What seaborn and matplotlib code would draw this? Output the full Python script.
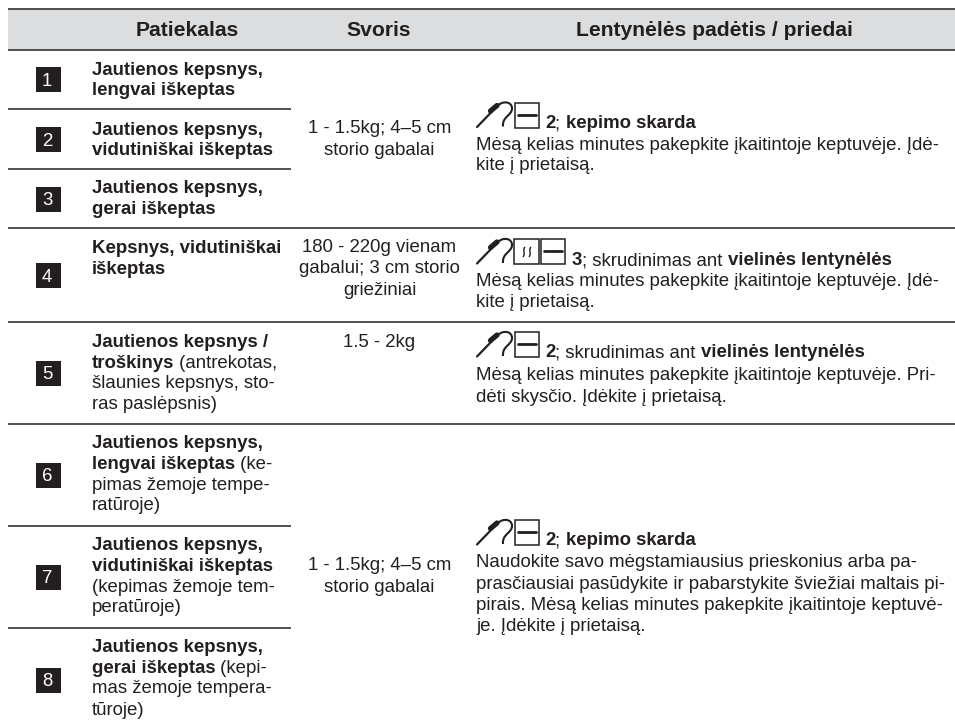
import pandas as pd
import matplotlib
matplotlib.use("Agg")
import matplotlib.pyplot as plt
from matplotlib.patches import Rectangle, PathPatch
from matplotlib.path import Path
import seaborn as sns

# header
headers = ["Patiekalas", "Svoris", "Lentynėlės padėtis / priedai"]
header_x = [187, 379, 714]

# row numbers
row_numbers = ["1", "2", "3", "4", "5", "6", "7", "8"]
badge_y = [79, 139, 198.5, 275, 372.5, 474.5, 576.5, 679.5]

# dish column, (text, bold) runs per line
dish_lines = [
    [("Jautienos kepsnys,", True)],
    [("lengvai iškeptas", True)],
    [("Jautienos kepsnys,", True)],
    [("vidutiniškai iškeptas", True)],
    [("Jautienos kepsnys,", True)],
    [("gerai iškeptas", True)],
    [("Kepsnys, vidutiniškai", True)],
    [("iškeptas", True)],
    [("Jautienos kepsnys /", True)],
    [("troškinys", True), (" (antrekotas,", False)],
    [("šlaunies kepsnys, sto-", False)],
    [("ras paslėpsnis)", False)],
    [("Jautienos kepsnys,", True)],
    [("lengvai iškeptas", True), (" (ke-", False)],
    [("pimas žemoje tempe-", False)],
    [("ratūroje)", False)],
    [("Jautienos kepsnys,", True)],
    [("vidutiniškai iškeptas", True)],
    [("(kepimas žemoje tem-", False)],
    [("peratūroje)", False)],
    [("Jautienos kepsnys,", True)],
    [("gerai iškeptas", True), (" (kepi-", False)],
    [("mas žemoje tempera-", False)],
    [("tūroje)", False)],
]
dish_y = [75, 95, 135, 155, 193, 214, 252.5, 274, 346.5, 367.5, 388, 409,
          448, 469, 490, 510, 550, 571, 592, 612, 652, 673, 693, 715]

# weight column
weight_lines = ["1 - 1.5kg; 4–5 cm", "storio gabalai",
                "180 - 220g vienam", "gabalui; 3 cm storio", "griežiniai",
                "1.5 - 2kg",
                "1 - 1.5kg; 4–5 cm", "storio gabalai"]
weight_y = [133, 155, 252, 273, 295, 347, 570.5, 591.5]

# shelf column
shelf_lines = [
    [("2", True), ("; ", False), ("kepimo skarda", True)],
    [("Mėsą kelias minutes pakepkite įkaitintoje keptuvėje. Įdė-", False)],
    [("kite į prietaisą.", False)],
    [("3", True), ("; skrudinimas ant ", False), ("vielinės lentynėlės", True)],
    [("Mėsą kelias minutes pakepkite įkaitintoje keptuvėje. Įdė-", False)],
    [("kite į prietaisą.", False)],
    [("2", True), ("; skrudinimas ant ", False), ("vielinės lentynėlės", True)],
    [("Mėsą kelias minutes pakepkite įkaitintoje keptuvėje. Pri-", False)],
    [("dėti skysčio. Įdėkite į prietaisą.", False)],
    [("2", True), ("; ", False), ("kepimo skarda", True)],
    [("Naudokite savo mėgstamiausius prieskonius arba pa-", False)],
    [("prasčiausiai pasūdykite ir pabarstykite šviežiai maltais pi-", False)],
    [("pirais. Mėsą kelias minutes pakepkite įkaitintoje keptuvė-", False)],
    [("je. Įdėkite į prietaisą.", False)],
]
shelf_y = [128, 149.5, 170, 265, 286, 307, 357, 380, 401.5, 545, 567, 589, 609.5, 631]
shelf_x = [545, 476, 476, 572, 476, 476, 545, 476, 476, 545, 476, 476, 476, 476]

# horizontal rules: y, x start, x end
rule_y = [9, 50, 109, 169, 228, 321.5, 424, 526, 628]
rule_x0 = [8, 8, 8, 8, 8, 8, 8, 8, 8]
rule_x1 = [955, 955, 291, 291, 955, 955, 955, 291, 291]

# icon groups: bottom of the box, one with the fan box
icon_bottom = [127.5, 264, 357, 545]
icon_fan = [False, True, False, False]

INK = "#231f20"
BODY = 13.45

sns.set_theme(style="white")
plt.rcParams["font.family"] = ["Liberation Sans", "DejaVu Sans"]

fig = plt.figure(figsize=(9.55, 7.25), dpi=100, facecolor="white")
ax = fig.add_axes([0, 0, 1, 1])

badges = pd.DataFrame({"x": [47.5] * len(badge_y), "y": badge_y})
sns.scatterplot(data=badges, x="x", y="y", marker="s", s=324, color=INK,
                linewidth=0, ax=ax, legend=False, zorder=3)
ax.set_xlim(0, 955)
ax.set_ylim(725, 0)
ax.axis("off")

ax.add_patch(Rectangle((8, 9), 947, 41, facecolor="#dcddde", edgecolor="none", zorder=0))
ax.hlines(rule_y, rule_x0, rule_x1, color="#333333", linewidth=1.2, zorder=2)

renderer = fig.canvas.get_renderer()


def text_width(s, bold, size):
    # the trailing dot keeps spaces in the measure
    w = ax.text(0, 0, s + ".", fontsize=size, fontweight="bold" if bold else "normal")
    d = ax.text(0, 0, ".", fontsize=size, fontweight="bold" if bold else "normal")
    out = w.get_window_extent(renderer).width - d.get_window_extent(renderer).width
    w.remove()
    d.remove()
    return out


def draw_runs(x, y, runs, size=BODY):
    for s, bold in runs:
        ax.text(x, y, s, fontsize=size, color=INK, va="baseline",
                fontweight="bold" if bold else "normal")
        x += text_width(s, bold, size)


def draw_probe(bottom):
    top = bottom - 25
    ax.plot([477, 492], [bottom - 0.5, top + 9], color=INK, lw=1.6, solid_capstyle="round")
    ax.plot([490.5, 497], [top + 8.5, top + 3], color=INK, lw=3.8, solid_capstyle="round")
    hook = Path([(498, top + 3), (503, top - 2), (512, top - 1), (512, top + 6),
                 (512, top + 13), (502, top + 14), (503, bottom - 1)],
                [Path.MOVETO, Path.CURVE4, Path.CURVE4, Path.CURVE4,
                 Path.CURVE4, Path.CURVE4, Path.CURVE4])
    ax.add_patch(PathPatch(hook, facecolor="none", edgecolor=INK, lw=1.5))


def draw_box(x, bottom, fan=False):
    top = bottom - 25
    ax.add_patch(Rectangle((x, top), 24.5, 25, facecolor="white", edgecolor=INK, lw=1.1, zorder=2))
    if fan:
        for dx in (10, 16):
            wave = Path([(x + dx + 1, top + 8), (x + dx - 2, top + 11), (x + dx + 2, top + 14),
                         (x + dx - 1, top + 18)],
                        [Path.MOVETO, Path.CURVE4, Path.CURVE4, Path.CURVE4])
            ax.add_patch(PathPatch(wave, facecolor="none", edgecolor=INK, lw=1.0, zorder=3))
    else:
        ax.plot([x + 3, x + 21.5], [top + 12, top + 12], color=INK, lw=2.0, zorder=3)


for name, x in zip(headers, header_x):
    ax.text(x, 35.5, name, fontsize=15.2, fontweight="bold", color=INK, ha="center", va="baseline")

for num, y in zip(row_numbers, badge_y):
    ax.text(47, y + 6.5, num, fontsize=13.4, color="white", ha="center", va="baseline", zorder=4)

for runs, y in zip(dish_lines, dish_y):
    draw_runs(91.5, y, runs)

for line, y in zip(weight_lines, weight_y):
    ax.text(379.5, y, line, fontsize=BODY, color=INK, ha="center", va="baseline")

for runs, x, y in zip(shelf_lines, shelf_x, shelf_y):
    draw_runs(x, y, runs)

for bottom, fan in zip(icon_bottom, icon_fan):
    draw_probe(bottom)
    if fan:
        draw_box(514, bottom, fan=True)
        draw_box(540.5, bottom)
    else:
        draw_box(514.5, bottom)

fig.savefig("out.png", dpi=100)
